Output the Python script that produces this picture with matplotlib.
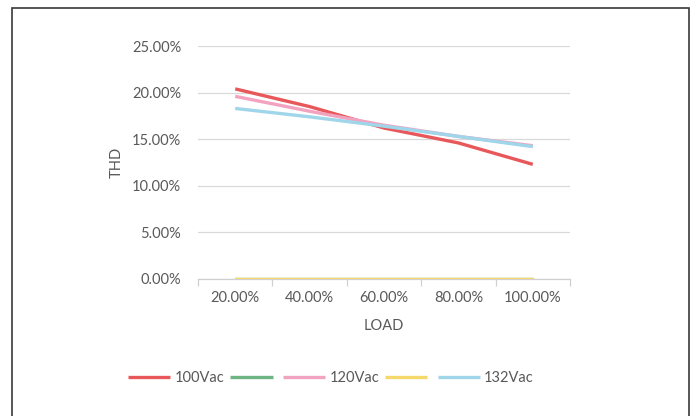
import matplotlib
matplotlib.use("Agg")
import matplotlib.pyplot as plt
from matplotlib.patches import Rectangle
from matplotlib.ticker import FuncFormatter, FixedLocator

plt.rcParams['font.family'] = ['Lato', 'DejaVu Sans']

categories = ["20.00%", "40.00%", "60.00%", "80.00%", "100.00%"]
s100 = [20.4, 18.5, 16.2, 14.6, 12.3]
s_green = [0, 0, 0, 0, 0]
s120 = [19.6, 18.0, 16.5, 15.3, 14.3]
s_yellow = [0, 0, 0, 0, 0]
s132 = [18.3, 17.4, 16.4, 15.3, 14.2]
yticks = [0, 5, 10, 15, 20, 25]

series = [
    ("100Vac", s100, "#e8585a"),
    ("", s_green, "#6fb583"),
    ("120Vac", s120, "#f2a3bf"),
    ("", s_yellow, "#f5d96b"),
    ("132Vac", s132, "#9fd6ea"),
]

FS = 10.5
fig = plt.figure(figsize=(7, 4.16), dpi=100)
fig.patches.append(Rectangle((12/700, -0.05), (689-12)/700, 1.05 - 8/416,
                             transform=fig.transFigure, fill=False,
                             edgecolor="#3a3a3a", linewidth=1.2))
ax = fig.add_axes([198/700, (416-279)/416, (570-198)/700, (279-46)/416])

x = list(range(len(categories)))
handles = []
for name, vals, color in series:
    z = 3 if name == "" else 4
    h, = ax.plot(x, vals, color=color, linewidth=2.4, label=name,
                 solid_capstyle="butt", zorder=z)
    handles.append(h)
ax.set_xlim(-0.5, len(categories) - 0.5)
ax.set_ylim(0, 25)
ax.set_yticks(yticks)
ax.yaxis.set_major_formatter(FuncFormatter(lambda v, p: f"{v:.2f}%"))
ax.grid(axis="y", color="#d9d9d9", linewidth=0.9)
ax.set_axisbelow(True)

ax.xaxis.set_major_locator(FixedLocator([i - 0.5 for i in range(len(categories) + 1)]))
ax.xaxis.set_minor_locator(FixedLocator(x))
ax.set_xticklabels([])
ax.set_xticklabels(categories, minor=True)
ax.tick_params(axis="x", which="major", length=5, color="#d0d0d0", width=0.9)
ax.tick_params(axis="x", which="minor", length=0, pad=9, labelsize=FS, labelcolor="#595959")
ax.tick_params(axis="y", length=0, pad=12, labelsize=FS, labelcolor="#595959")

for s in ["top", "right", "left"]:
    ax.spines[s].set_visible(False)
ax.spines["bottom"].set_color("#d0d0d0")
ax.spines["bottom"].set_linewidth(0.9)

ax.set_ylabel("THD", color="#595959", fontsize=FS, labelpad=6)
ax.set_xlabel("LOAD", color="#595959", fontsize=FS, labelpad=10)

fig.legend(handles=handles, labels=[s[0] for s in series], loc="center",
           bbox_to_anchor=(331/700, 1 - 378/416), ncol=5, frameon=False,
           fontsize=FS, handlelength=2.9, handletextpad=0.3, columnspacing=0.4,
           labelcolor="#595959")

fig.savefig("out.png", dpi=100)
